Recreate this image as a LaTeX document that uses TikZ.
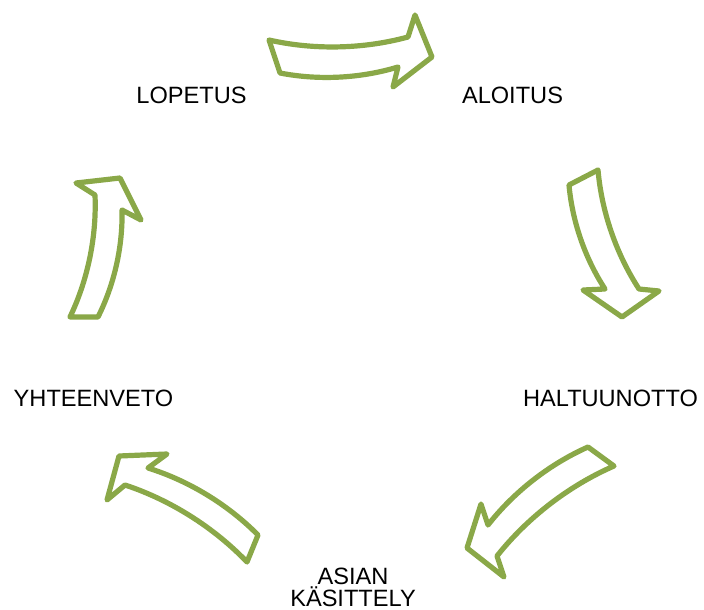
\documentclass[tikz,border=0pt]{standalone}
\usepackage{fontspec}
\setmainfont{Liberation Sans}
\definecolor{arrowgreen}{RGB}{138,168,72}
\begin{document}
\begin{tikzpicture}[x=1pt,y=-1pt,
  cyc/.style={draw=arrowgreen, line width=5.2pt, fill=white, line join=round},
  lbl/.style={font=\fontsize{23.6}{22.5}\selectfont, inner sep=0pt, anchor=base},
  ob/.style={bend right=14, looseness=0.85},
  ib/.style={bend left=14, looseness=0.85}]
\useasboundingbox (0,0) rectangle (704,610);
% arrows
\draw[cyc] (269,40) to[ob] (408,37) -- (415,15) -- (432,57) -- (393,87) -- (398,67) to[ib] (280,73) -- cycle;
\draw[cyc] (598,170) to[ob] (639,289) -- (659,291) -- (622,317) -- (583,290) -- (605,289) to[ib] (569,185) -- cycle;
\draw[cyc] (614,466) to[ob] (497,556) -- (504,577) -- (467,548) -- (481,504) -- (488,525) to[ib] (588,447) -- cycle;
\draw[cyc] (247,562) to[ob] (125,485) -- (107,500) -- (119,456) -- (167,454) -- (148,468) to[ib] (258,535) -- cycle;
\draw[cyc] (70,317) to[ob] (95,195) -- (76,183) -- (120,178) -- (141,220) -- (122,210) to[ib] (98,317) -- cycle;
% labels
\node[lbl] (lopetus) at (191.5,103.5) {LOPETUS};
\node[lbl] (aloitus) at (512.5,103.5) {ALOITUS};
\node[lbl] (haltuunotto) at (610.5,406) {HALTUUNOTTO};
\node[lbl] (yhteenveto) at (93.5,406) {YHTEENVETO};
\node[lbl, align=center] (asian) at (353,606.5) {ASIAN\\KÄSITTELY};
\end{tikzpicture}
\end{document}
